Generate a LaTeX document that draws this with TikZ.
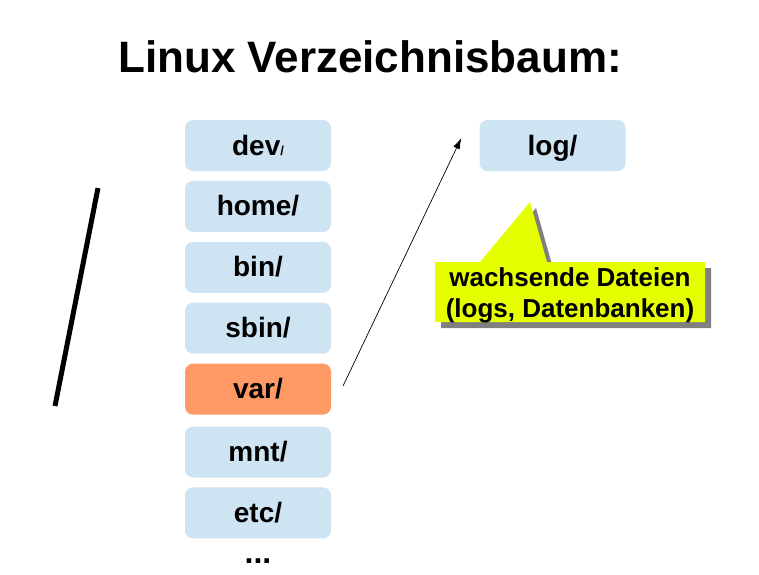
\documentclass[tikz,border=0pt]{standalone}
\usepackage{fontspec}
\setmainfont{Liberation Sans}
\usetikzlibrary{positioning,arrows.meta}
\definecolor{dirblue}{RGB}{207,228,243}
\definecolor{varorange}{RGB}{255,153,102}
\definecolor{noteyellow}{RGB}{230,255,0}
\definecolor{shadowgrey}{RGB}{128,128,128}
\tikzset{
    dirbox/.style={fill=dirblue,rounded corners=8pt,minimum width=146pt,minimum height=51pt,
        font=\fontsize{28}{32}\selectfont\bfseries,inner sep=0pt,text height=20pt,text depth=1pt},
    hotbox/.style={dirbox,fill=varorange}
}
\begin{document}
\begin{tikzpicture}[x=1pt,y=-1pt,node distance=9.5pt]
        \useasboundingbox (0,0) rectangle (759,574);
        %% title
        \node (title) at (370,57) {\fontsize{44}{50}\selectfont\bfseries Linux Verzeichnisbaum:};
        %% directory column
        \node[dirbox] (dev) at (258,145.5) {dev{\fontsize{13}{14}\selectfont/}};
        \node[dirbox,below=of dev] (home) {home/};
        \node[dirbox,below=of home] (bin) {bin/};
        \node[dirbox,below=of bin] (sbin) {sbin/};
        \node[hotbox,below=of sbin] (var) {var/};
        \node[dirbox,below=of var,yshift=-2pt] (mnt) {mnt/};
        \node[dirbox,below=of mnt] (etc) {etc/};
        \node[font=\fontsize{32}{34}\selectfont\bfseries,inner sep=0pt,below=20pt of etc] (more) {...};
        %% subdirectory of var
        \node[dirbox] (log) at (552.5,145.5) {log/};
        \coordinate (from) at ([xshift=12pt,yshift=3.5pt]var.east);
        \coordinate (to) at ([xshift=-18pt,yshift=7.5pt]log.west);
        \draw[line width=0.7pt,-{Latex[length=11pt,width=7pt]}] (from) -- (to);
        %% callout
        \fill[shadowgrey,shift={(6,6)}] (435,262) -- (480,262) -- (530,202) -- (547,262)
            -- (705,262) -- (705,322) -- (435,322) -- cycle;
        \fill[noteyellow] (435,262) -- (480,262) -- (530,202) -- (547,262)
            -- (705,262) -- (705,322) -- (435,322) -- cycle;
        \node[align=center,font=\fontsize{26}{31}\selectfont\bfseries] (note) at (570,295)
            {wachsende Dateien\\(logs, Datenbanken)};
        %% left bar
        \draw[line width=5pt] (98,188) -- (55,406);
    \end{tikzpicture}
\end{document}
